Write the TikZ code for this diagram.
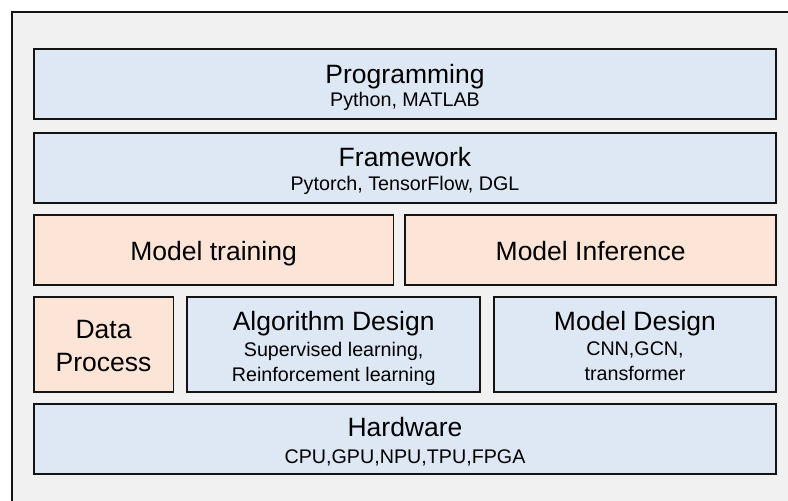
\documentclass[tikz,border=0pt]{standalone}
\usepackage{fontspec}
\setmainfont{Liberation Sans}
\definecolor{panelbg}{HTML}{F1F1F1}
\definecolor{layerblue}{HTML}{DEE8F5}
\definecolor{layerpeach}{HTML}{FCE4D6}
\definecolor{edge}{HTML}{141414}
\tikzset{
  layer/.style={draw=edge, line width=1.9pt},
  bluelayer/.style={layer, fill=layerblue},
  peachlayer/.style={layer, fill=layerpeach},
  ttl/.style={anchor=base, inner sep=0pt, font=\fontsize{26.5}{30}\selectfont},
  sub/.style={anchor=base, inner sep=0pt, font=\fontsize{19.7}{24}\selectfont},
}
\begin{document}
\begin{tikzpicture}[x=1pt,y=-1pt]
  \useasboundingbox (0,0) rectangle (788,501);
  \clip (0,0) rectangle (788,501);
  \fill[white] (0,0) rectangle (788,501);
  % outer panel, running off the right and bottom edges
  \draw[fill=panelbg, draw=edge, line width=1.9pt] (11.7,11.7) rectangle (820,530);

  % layer boxes
  \path[bluelayer]  (33.8,49.4)  rectangle (776.2,119.2);
  \node[inner sep=0pt] (prog) at (405,84) {};
  \path[bluelayer]  (33.8,132.8) rectangle (776.2,203.2);
  \node[inner sep=0pt] (fw) at (405,168) {};
  \path[peachlayer] (33.8,215) rectangle (393.5,284.7);
  \node[inner sep=0pt] (train) at (213.6,250) {};
  \path[peachlayer] (405.3,215) rectangle (776.2,284.7);
  \node[inner sep=0pt] (infer) at (590.7,250) {};
  \path[peachlayer] (33.8,297.3) rectangle (173.5,391.7);
  \node[inner sep=0pt] (data) at (103.6,344.5) {};
  \path[bluelayer]  (187.3,297.3) rectangle (480.1,391.7);
  \node[inner sep=0pt] (algo) at (333.7,344.5) {};
  \path[bluelayer]  (493.7,297.3) rectangle (776.2,391.7);
  \node[inner sep=0pt] (mdl) at (635,344.5) {};
  \path[bluelayer]  (33.8,403.7) rectangle (776.2,473.7);
  \node[inner sep=0pt] (hw) at (405,438.7) {};

  % texts (positioned on baselines)
  \node[ttl] (progT) at (405,83.3) {Programming};
  \node[sub] (progS) at (405,106.7) {Python, MATLAB};

  \node[ttl] (fwT) at (405,166.3) {Framework};
  \node[sub] (fwS) at (405,190) {Pytorch, TensorFlow, DGL};

  \node[ttl] (trainT) at (213.6,260.6) {Model training};
  \node[ttl] (inferT) at (590.7,260.6) {Model Inference};

  \node[ttl] (dataT1) at (103.6,338.7) {Data};
  \node[ttl] (dataT2) at (103.6,371) {Process};

  \node[ttl] (algoT) at (333.7,330) {Algorithm Design};
  \node[sub] (algoS1) at (333.7,356.7) {Supervised learning,};
  \node[sub] (algoS2) at (333.7,381) {Reinforcement learning};

  \node[ttl] (mdlT) at (635,330.5) {Model Design};
  \node[sub] (mdlS1) at (635,355) {CNN,GCN,};
  \node[sub] (mdlS2) at (635,380) {transformer};

  \node[ttl] (hwT) at (405,436.7) {Hardware};
  \node[sub] (hwS) at (405,463.3) {CPU,GPU,NPU,TPU,FPGA};
\end{tikzpicture}
\end{document}
